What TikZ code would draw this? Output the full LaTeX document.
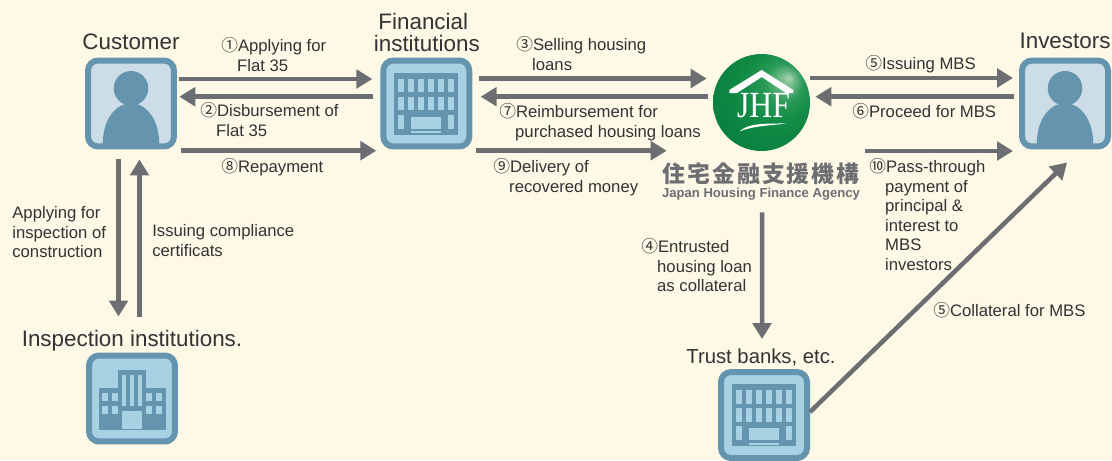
\documentclass[tikz,border=0pt]{standalone}
\usepackage{fontspec}
\setmainfont{Liberation Sans}
\newfontfamily\cjk{Noto Sans CJK JP}
\newfontfamily\cjkname[LetterSpace=9]{Noto Sans CJK JP}
\newfontfamily\logoserif{Liberation Serif}
\usetikzlibrary{arrows.meta}

\definecolor{paper}{HTML}{FEF8E7}
\definecolor{arrowgray}{HTML}{6D6E72}
\definecolor{iconblue}{HTML}{6595AE}
\definecolor{personbg}{HTML}{CDDDE8}
\definecolor{buildingbg}{HTML}{A9D1E4}
\definecolor{inktext}{HTML}{333333}

\pgfdeclareradialshading{jhfball}{\pgfpoint{0.5cm}{0.45cm}}{%
  rgb(0bp)=(0.66,0.83,0.70);
  rgb(4bp)=(0.42,0.72,0.52);
  rgb(10bp)=(0.16,0.60,0.34);
  rgb(18bp)=(0.07,0.55,0.28);
  rgb(32bp)=(0.04,0.50,0.24);
  rgb(50bp)=(0.03,0.46,0.22)}

\tikzset{
  iconbox/.style={draw=iconblue,line width=0.12cm,minimum size=1.72cm,rounded corners=0.2cm,inner sep=0pt},
  flow/.style={draw=arrowgray,line width=0.09cm,-{Triangle[length=0.32cm,width=0.37cm]}},
  lbl/.style={anchor=north west,align=left,inner sep=0pt,text=inktext,font=\fontsize{9.5}{11.15}\selectfont},
  ttl/.style={align=center,inner sep=0pt,text=inktext,font=\fontsize{12.75}{12.4}\selectfont},
}

% numbered label text
\newcommand{\nm}[1]{{\cjk #1}}
\newcommand{\ind}{\hspace*{0.95em}}
\newcommand{\plainstart}{\rule{0pt}{8.2pt}}

\newcommand{\personicon}[1]{
  \begin{scope}[shift={(#1)}]
    \fill[iconblue] (0,-15.2) circle (17.3);
    \fill[iconblue] (-28.3,40.5) .. controls (-28,15) and (-15,0) .. (0,-0.5) .. controls (15,0) and (28,15) .. (28.3,40.5) -- cycle;
  \end{scope}}

\newcommand{\bankicon}[1]{
  \begin{scope}[shift={(#1)}]
    \fill[iconblue] (-32,-31) rectangle (32,31);
    \foreach \i in {0,...,5} {
      \fill[buildingbg] (-28+\i*9.95,-25) rectangle ++(6,13.7);
      \fill[buildingbg] (-28+\i*9.95,-7) rectangle ++(6,13.7);
    }
    \fill[buildingbg] (-28,11) rectangle ++(6,14);
    \fill[buildingbg] (21.8,11) rectangle ++(6,14);
    \fill[buildingbg] (-15,13) rectangle (15,25);
    \fill[buildingbg] (-15,27.5) rectangle (15,29.5);
  \end{scope}}

\newcommand{\officeicon}[1]{
  \begin{scope}[shift={(#1)}]
    \fill[iconblue] (-14,-28.5) rectangle (14,31);
    \fill[iconblue] (-33,-10.5) rectangle (34,31);
    \foreach \i in {-10,-2,6}
      \fill[buildingbg] (\i,-23.5) rectangle ++(4,31);
    \foreach \i in {-30,-20,14,24} {
      \fill[buildingbg] (\i,-5.5) rectangle ++(6,8);
      \fill[buildingbg] (\i,7.5) rectangle ++(6,8);
    }
    \fill[buildingbg] (-10,12) rectangle (10,30.5);
  \end{scope}}

\begin{document}
\begin{tikzpicture}[x=0.02cm,y=-0.02cm]
        \useasboundingbox (0,0) rectangle (1112,460);
        \fill[paper] (0,0) rectangle (1112,460);
        % Customer
        \node[iconbox,fill=personbg] (customer) at (131,103.5) {};
        \personicon{customer.center}
        \node[ttl] (customername) at (131,42) {Customer};
        % Financial institutions
        \node[iconbox,fill=buildingbg] (finance) at (426.3,103.5) {};
        \bankicon{finance.center}
        \node[ttl] (financename) at (426.8,32.5) {Financial\hspace*{4pt}\\institutions};
        % Investors
        \node[iconbox,fill=personbg] (investors) at (1065,103.5) {};
        \personicon{investors.center}
        \node[ttl] (investorsname) at (1065,41) {Investors};
        % Inspection institutions
        \node[iconbox,fill=buildingbg] (inspection) at (132,398.5) {};
        \officeicon{inspection.center}
        \node[ttl] (inspectionname) at (132,340.5) {Inspection institutions.};
        % Trust banks
        \node[iconbox,fill=buildingbg] (trust) at (764,415) {};
        \bankicon{trust.center}
        \node[ttl,font=\fontsize{11.55}{12.4}\selectfont] (trustname) at (761,357.5) {Trust banks, etc.};
        % JHF logo
        \node[circle,minimum size=1.94cm,inner sep=0pt,shading=jhfball] (jhf) at (761.5,102.5) {};
        \fill[white] (729.3,93) -- (729.3,90) -- (761.7,70) -- (793.3,90) -- (793.3,93) -- (786,93) -- (761.7,77) -- (737,93) -- cycle;
        \node[inner sep=0pt,text=white,font=\fontsize{21}{21}\selectfont\logoserif] (jhfletters) at (763.5,105.5) {\scalebox{0.86}[1]{JHF}};
        \fill[white] (739.5,131.5) .. controls (748,123) and (765,123.5) .. (787,123.5) .. controls (770,125.5) and (752,126) .. (739.5,131.5) -- cycle;
        \node[inner sep=0pt,text=arrowgray,font=\fontsize{13}{13}\selectfont\bfseries] (jhfjp) at (761,174) {\cjkname 住宅金融支援機構};
        \node[inner sep=0pt,text=arrowgray,font=\fontsize{7.45}{8}\selectfont\bfseries] (jhfen) at (761,194.5) {Japan Housing Finance Agency};
        % Customer to financial institutions
        \draw[flow] ([shift={(1.7,-24.5)}]customer.east) -- ([shift={(-8,-24.5)}]finance.west);
        \draw[flow] ([shift={(-7,-6.8)}]finance.west) -- ([shift={(2.3,-6.8)}]customer.east);
        \draw[flow] ([shift={(4,47.2)}]customer.east) -- ([shift={(-4,47.2)}]finance.west);
        % Financial institutions to JHF
        \draw[flow] ([shift={(6.7,-25)}]finance.east) -- ([shift={(-6,-24)}]jhf.west);
        \draw[flow] ([shift={(-5,-5.8)}]jhf.west) -- ([shift={(8.4,-6.8)}]finance.east);
        \draw[flow] ([shift={(4,47.2)}]finance.east) -- ([shift={(-46,48.2)}]jhf.west);
        % JHF to investors
        \draw[flow] ([shift={(0,-24.5)}]jhf.east) -- ([shift={(-6,-25.5)}]investors.west);
        \draw[flow] ([shift={(-5,-6.8)}]investors.west) -- ([shift={(5,-5.8)}]jhf.east);
        \draw[flow] ([shift={(55,48.5)}]jhf.east) -- ([shift={(-6,47.5)}]investors.west);
        % Inspection
        \draw[flow] ([shift={(-12.5,10)}]customer.south) -- ([shift={(-13.5,-36)}]inspection.north);
        \draw[flow] ([shift={(7.5,-36)}]inspection.north) -- ([shift={(8.5,10)}]customer.south);
        % Trust banks
        \draw[flow] ([shift={(0.5,61)}]jhf.south) -- ([shift={(-2,-30)}]trust.north);
        \draw[flow] ([shift={(0,-3)}]trust.east) -- ([shift={(2,13)}]investors.south);
        % Labels
        \node[lbl] (lblone) at (221,37) {\nm{①}Applying for\\\ind Flat 35};
        \node[lbl] (lbltwo) at (200,102) {\nm{②}Disbursement of\\\ind Flat 35};
        \node[lbl] (lbleight) at (221,158) {\nm{⑧}Repayment};
        \node[lbl] (lblthree) at (516,36.5) {\nm{③}Selling housing\\\ind loans};
        \node[lbl] (lblseven) at (499,103) {\nm{⑦}Reimbursement for\\\ind purchased housing loans};
        \node[lbl] (lblnine) at (493,158) {\nm{⑨}Delivery of\\\ind recovered money};
        \node[lbl] (lblfive) at (865,55) {\nm{⑤}Issuing MBS};
        \node[lbl] (lblsix) at (852,103) {\nm{⑥}Proceed for MBS};
        \node[lbl] (lblten) at (869,158) {\nm{⑩}Pass-through\\\ind payment of\\\ind principal \&\\\ind interest to\\\ind MBS\\\ind investors};
        \node[lbl] (lblfour) at (641,238) {\nm{④}Entrusted\\\ind housing loan\\\ind as collateral};
        \node[lbl] (lblcollateral) at (933,302.5) {\nm{⑤}Collateral for MBS};
        \node[lbl] (lblapply) at (12,204) {\plainstart Applying for\\inspection of\\construction};
        \node[lbl] (lblissue) at (152,222) {\plainstart Issuing compliance\\certificats};
\end{tikzpicture}
\end{document}
